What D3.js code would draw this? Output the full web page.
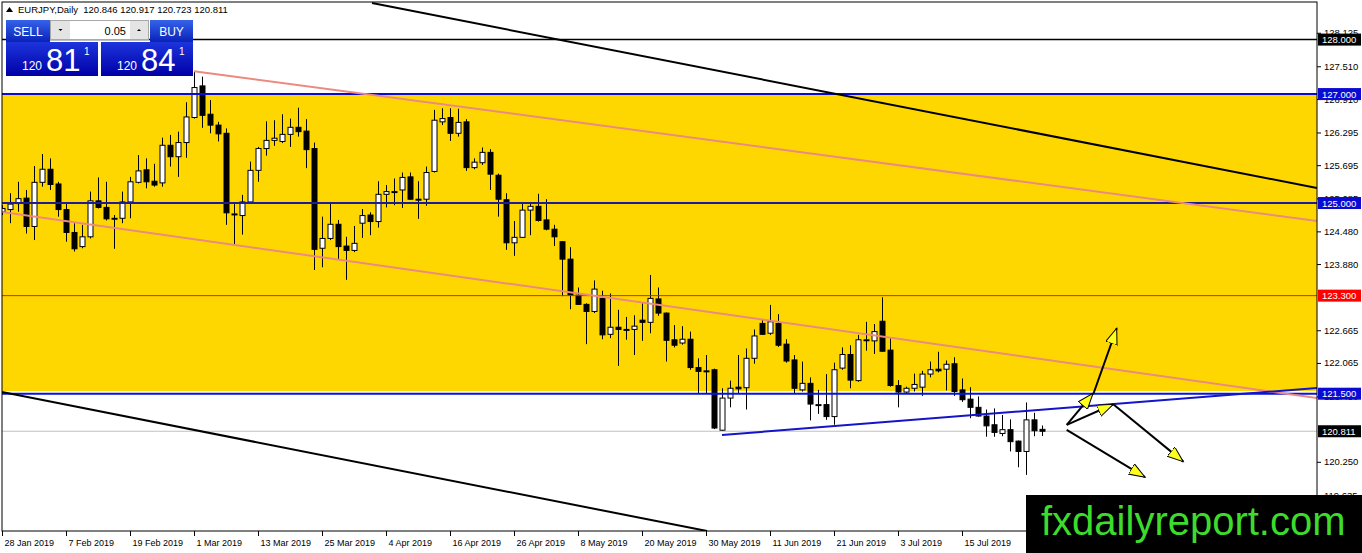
<!DOCTYPE html>
<html>
<head>
<meta charset="utf-8">
<script src="https://cdn.jsdelivr.net/npm/d3@7"></script>
<style>
  body { margin: 0; background: #fff; }
  svg { display: block; }
  text { font-family: "Liberation Sans", Arial, sans-serif; }
</style>
</head>
<body>
<svg id="chart" width="1362" height="553"></svg>
<script>
// EURJPY daily bars, 28 Jan 2019 .. 29 Jul 2019
const opens = [124.84,124.88,124.99,125.09,124.57,125.38,125.62,125.35,124.88,124.46,124.20,124.38,125.04,124.92,124.72,124.72,125.02,125.38,125.61,125.40,
  125.37,126.06,125.85,126.11,126.57,127.15,126.63,126.43,126.28,124.80,124.77,125.02,125.60,126.00,126.15,126.13,126.26,126.39,126.32,126.00,
  124.17,124.35,124.61,124.21,124.13,124.63,124.78,124.66,125.16,125.21,125.24,125.48,125.07,125.07,125.58,126.49,126.57,126.28,126.49,125.65,
  125.74,125.93,125.51,125.06,124.27,124.37,124.87,124.94,124.69,124.52,124.29,123.97,123.31,123.14,123.01,123.25,122.59,122.72,122.68,122.68,
  122.85,122.81,123.24,122.98,122.49,122.43,122.50,121.98,121.92,121.94,120.83,121.42,121.62,121.61,122.15,122.79,122.61,122.79,122.41,122.12,
  121.57,121.69,121.30,121.30,121.08,121.97,122.22,121.74,122.49,122.47,122.83,122.30,121.65,121.53,121.60,121.62,121.86,121.95,121.95,122.05,
  121.57,121.40,121.25,121.09,120.93,120.77,120.84,120.63,120.44,121.02,120.846];
const highs = [124.96,125.18,125.39,125.24,125.68,125.90,125.82,125.39,124.99,124.63,124.60,125.21,125.47,125.39,124.78,125.21,125.48,125.88,125.82,125.72,
  126.20,126.25,126.31,126.85,127.41,127.32,126.89,126.49,126.37,124.98,125.15,125.76,126.03,126.50,126.52,126.63,126.55,126.75,126.54,126.11,
  124.75,125.02,124.69,124.38,124.58,124.89,124.83,125.40,125.33,125.45,125.56,125.56,125.40,125.67,126.71,126.74,126.74,126.73,126.54,125.82,
  126.02,125.99,125.54,125.18,124.67,125.02,125.02,125.17,125.07,124.60,124.30,124.19,123.45,123.16,123.58,123.39,123.34,123.04,122.91,122.94,
  123.16,123.68,123.45,122.99,122.76,122.74,122.64,122.15,122.21,121.96,121.60,121.74,122.21,122.33,122.68,122.87,123.13,122.96,122.50,122.21,
  122.09,121.80,121.57,121.86,122.07,122.35,122.39,122.58,122.82,122.78,123.27,122.52,121.75,121.63,121.87,121.92,122.09,122.27,122.11,122.17,
  121.78,121.62,121.45,121.21,121.23,121.11,121.03,120.64,121.34,121.15,120.917];
const lows = [124.78,124.63,124.84,124.44,124.32,125.30,125.24,124.75,124.29,124.11,124.17,124.35,124.90,124.68,124.16,124.63,124.72,125.36,125.27,125.30,
  125.30,125.67,125.48,125.83,126.55,126.38,126.28,126.13,124.60,124.23,124.42,124.99,125.39,125.87,126.05,126.10,126.03,126.22,125.64,123.77,
  123.82,124.32,123.97,123.59,124.10,124.36,124.41,124.55,124.92,124.96,124.91,125.06,124.71,124.95,125.56,126.43,126.14,126.22,125.59,125.62,
  125.70,125.24,124.75,124.14,124.03,124.37,124.41,124.66,124.50,124.21,123.29,123.05,123.13,122.41,122.98,122.50,122.52,122.01,122.49,122.21,
  122.47,122.61,122.93,122.09,122.35,122.40,121.94,121.51,121.50,120.85,120.82,121.25,121.50,121.21,122.05,122.58,122.58,122.36,122.07,121.51,
  121.54,121.01,121.13,121.02,120.93,121.94,121.60,121.72,122.29,122.23,122.27,121.63,121.25,121.51,121.54,121.46,121.80,121.89,121.56,121.46,
  121.35,121.05,121.08,120.71,120.71,120.72,120.44,120.15,120.01,120.72,120.723];
const closes = [124.90,124.98,125.08,124.57,125.38,125.62,125.34,124.88,124.46,124.16,124.38,125.04,124.92,124.71,124.72,125.02,125.39,125.59,125.39,125.33,
  126.06,125.85,126.11,126.58,127.12,126.61,126.43,126.27,124.82,124.80,125.02,125.60,126.00,126.15,126.19,126.26,126.39,126.31,125.98,124.15,
  124.35,124.61,124.20,124.13,124.26,124.77,124.66,125.16,125.21,125.21,125.47,125.07,125.07,125.56,126.52,126.55,126.28,126.48,125.65,125.75,
  125.93,125.53,125.07,124.27,124.37,124.87,124.94,124.68,124.52,124.38,123.97,123.31,123.14,123.01,123.42,122.58,122.72,122.68,122.68,122.74,
  122.81,123.25,122.98,122.48,122.39,122.50,121.98,121.91,121.92,120.87,121.42,121.60,121.59,122.15,122.56,122.59,122.82,122.39,122.10,121.60,
  121.69,121.31,121.30,121.08,121.94,122.22,121.75,122.49,122.49,122.64,122.28,121.65,121.53,121.60,121.67,121.86,121.94,121.92,122.04,121.54,
  121.39,121.25,121.09,120.91,120.79,120.84,120.62,120.44,121.02,120.82,120.811];

// date labels, one every 8 bars
const dateLabels = ["28 Jan 2019","7 Feb 2019","19 Feb 2019","1 Mar 2019","13 Mar 2019","25 Mar 2019","4 Apr 2019","16 Apr 2019",
  "26 Apr 2019","8 May 2019","20 May 2019","30 May 2019","11 Jun 2019","21 Jun 2019","3 Jul 2019","15 Jul 2019"];
const labelStep = 8;

// price scale labels (123.265 and 120.850 sit fully under the price tags)
const priceTicks = [128.125,127.510,126.910,126.295,125.695,125.085,124.480,123.880,122.665,122.065,121.450,120.250,119.635];

// horizontal levels and zone
const levels = [128.000, 127.000, 125.000, 123.300, 121.500];
const zone = [127.000, 121.55];
const lastPrice = 120.811;
const quote = {symbol: "EURJPY,Daily", o: 120.846, h: 120.917, l: 120.723, c: 120.811, bid: "81", ask: "84", big: "120", lot: "0.05"};

// trend lines [barIndex, price]
const channelTop = [[46.25, 128.67], [164.375, 125.275]];
const channelBottom = [[0, 121.53], [88.125, 118.98]];
const pinkUpper = [[24, 127.42], [164.375, 124.67]];
const pinkLower = [[0, 124.835], [164.375, 121.42]];
const supportLine = [[90, 120.743], [164.375, 121.606]];

// scenario arrows [barIndex, price]
const arrowSegments = [
  [[133.09, 120.927], [136.38, 121.508]],
  [[136.45, 121.508], [139.34, 122.701]],
  [[133.09, 120.927], [138.91, 121.306]],
  [[138.91, 121.306], [147.66, 120.253]],
  [[133.09, 120.835], [142.88, 119.967]]
];

const W = 1362, H = 553;
const plot = {left: 2, right: 1317, top: 2, bottom: 531};

const svg = d3.select('#chart');
const defs = svg.append('defs');

const x = d3.scaleLinear().domain([0, 164.375]).range([plot.left, plot.right]);
const y = d3.scaleLinear().domain([118.98, 128.69]).range([plot.bottom, plot.top]);

defs.append('clipPath').attr('id', 'plotClip')
  .append('rect')
  .attr('x', plot.left).attr('y', plot.top)
  .attr('width', plot.right - plot.left).attr('height', plot.bottom - plot.top);

// arrow head
defs.append('marker')
  .attr('id', 'head')
  .attr('markerUnits', 'userSpaceOnUse')
  .attr('markerWidth', 18).attr('markerHeight', 14)
  .attr('refX', 16).attr('refY', 6)
  .attr('orient', 'auto')
  .append('path')
  .attr('d', 'M0,0 L16,6 L0,12 Z')
  .attr('fill', '#ffff1e').attr('stroke', '#000').attr('stroke-width', 1);

function grad(id, c1, c2) {
  const g = defs.append('linearGradient').attr('id', id).attr('x1', 0).attr('y1', 0).attr('x2', 0).attr('y2', 1);
  g.append('stop').attr('offset', '0%').attr('stop-color', c1);
  g.append('stop').attr('offset', '100%').attr('stop-color', c2);
}
grad('btnGrad', '#3563ea', '#0a22b8');
grad('boxGrad', '#1d34dc', '#0000a6');

const g = svg.append('g').attr('clip-path', 'url(#plotClip)');

// yellow zone
g.append('rect')
  .attr('x', plot.left).attr('width', plot.right - plot.left)
  .attr('y', y(zone[0])).attr('height', y(zone[1]) - y(zone[0]))
  .attr('fill', '#ffd700');

// last price line
g.append('line')
  .attr('x1', plot.left).attr('x2', plot.right)
  .attr('y1', y(lastPrice)).attr('y2', y(lastPrice))
  .attr('stroke', '#c0c0c0').attr('stroke-width', 1);

// candles
const bars = d3.range(opens.length).map(i => ({i, o: opens[i], h: highs[i], l: lows[i], c: closes[i]}));
const candle = g.append('g').selectAll('g').data(bars).join('g');
candle.append('line')
  .attr('x1', d => Math.round(x(d.i)) + 0.5).attr('x2', d => Math.round(x(d.i)) + 0.5)
  .attr('y1', d => y(d.h)).attr('y2', d => y(d.l))
  .attr('stroke', '#000').attr('stroke-width', 1);
candle.append('rect')
  .attr('x', d => Math.round(x(d.i)) - 2)
  .attr('width', 5)
  .attr('y', d => y(Math.max(d.o, d.c)))
  .attr('height', d => Math.max(1, Math.abs(y(d.o) - y(d.c))))
  .attr('fill', d => d.c >= d.o ? '#fff' : '#000')
  .attr('stroke', '#000').attr('stroke-width', 1);

// horizontal levels
const levelColor = {128: '#000', 127: '#0a0ad2', 125: '#1c1c9a', 123.3: '#e02010', 121.5: '#0a14d8'};
const levelWidth = {128: 1.5, 127: 2, 125: 2, 123.3: 1, 121.5: 2};
g.selectAll('.lvl').data(levels).join('line')
  .attr('class', 'lvl')
  .attr('x1', plot.left).attr('x2', plot.right)
  .attr('y1', d => y(d)).attr('y2', d => y(d))
  .attr('stroke', d => levelColor[d]).attr('stroke-width', d => levelWidth[d]);

// trend lines
const line = d3.line().x(d => x(d[0])).y(d => y(d[1]));
function trend(pts, color, w) {
  g.append('path').attr('d', line(pts)).attr('fill', 'none')
    .attr('stroke', color).attr('stroke-width', w);
}
trend(pinkUpper, '#ec8a80', 2);
trend(pinkLower, '#ec8a80', 2);
trend(channelTop, '#000', 2);
trend(channelBottom, '#000', 2);
trend(supportLine, '#1414c8', 2);

// scenario arrows
g.selectAll('.arr').data(arrowSegments).join('path')
  .attr('class', 'arr')
  .attr('d', d => line(d))
  .attr('fill', 'none').attr('stroke', '#000').attr('stroke-width', 2)
  .attr('marker-end', 'url(#head)');

// frame
svg.append('rect')
  .attr('x', plot.left).attr('y', plot.top)
  .attr('width', plot.right - plot.left).attr('height', plot.bottom - plot.top)
  .attr('fill', 'none').attr('stroke', '#000').attr('stroke-width', 1);

// right price axis
const yAxis = svg.append('g')
  .attr('transform', `translate(${plot.right},0)`)
  .call(d3.axisRight(y).tickValues(priceTicks).tickFormat(d3.format('.3f')).tickSize(4).tickPadding(3));
yAxis.select('.domain').remove();
yAxis.selectAll('text').attr('font-size', 9.5).attr('fill', '#000').attr('font-family', '"Liberation Sans", Arial, sans-serif');
yAxis.selectAll('line').attr('stroke', '#000');

// bottom date axis
const tickIdx = dateLabels.map((d, k) => k * labelStep);
const xAxis = svg.append('g')
  .attr('transform', `translate(0,${plot.bottom})`)
  .call(d3.axisBottom(x).tickValues(tickIdx).tickFormat((d, k) => dateLabels[k]).tickSize(5).tickPadding(4));
xAxis.select('.domain').remove();
xAxis.selectAll('text').attr('font-size', 9).attr('fill', '#000')
  .attr('text-anchor', 'start').attr('dx', 2)
  .attr('font-family', '"Liberation Sans", Arial, sans-serif');
xAxis.selectAll('line').attr('stroke', '#000');

// price tags on the axis
const tagFill = {128: '#000', 127: '#0a0ad2', 125: '#0a0ad2', 123.3: '#ff0000', 121.5: '#0a0ad2'};
const tags = levels.map(v => ({v, fill: tagFill[v]})).concat([{v: lastPrice, fill: '#000'}]);
const tag = svg.append('g').selectAll('g').data(tags).join('g')
  .attr('transform', d => `translate(${plot.right + 1},${y(d.v)})`);
tag.append('rect').attr('x', 0).attr('y', -6).attr('width', 43).attr('height', 12).attr('fill', d => d.fill);
tag.append('text').attr('x', 4).attr('y', 3.5).attr('font-size', 9.5).attr('fill', '#fff')
  .text(d => d.v.toFixed(3));

// header
svg.append('path').attr('d', 'M6,12 L9.5,7 L13,12 Z').attr('fill', '#000');
svg.append('text').attr('x', 18).attr('y', 13).attr('font-size', 9.5).attr('fill', '#000')
  .attr('xml:space', 'preserve')
  .text(`${quote.symbol}  ${quote.o.toFixed(3)} ${quote.h.toFixed(3)} ${quote.l.toFixed(3)} ${quote.c.toFixed(3)}`);

// one-click trading panel
const panel = svg.append('g').style('font-family', '"Open Sans", "Noto Sans", sans-serif');
panel.append('rect').attr('x', 6).attr('y', 20).attr('width', 44).attr('height', 22).attr('fill', 'url(#btnGrad)');
panel.append('text').attr('x', 28).attr('y', 35.5).attr('text-anchor', 'middle').attr('fill', '#fff')
  .attr('font-size', 12).attr('font-family', '"Open Sans", sans-serif').text('SELL');
panel.append('rect').attr('x', 150).attr('y', 20).attr('width', 43).attr('height', 22).attr('fill', 'url(#btnGrad)');
panel.append('text').attr('x', 171.5).attr('y', 35.5).attr('text-anchor', 'middle').attr('fill', '#fff')
  .attr('font-size', 12).attr('font-family', '"Open Sans", sans-serif').text('BUY');
panel.append('rect').attr('x', 50.5).attr('y', 20.5).attr('width', 98).attr('height', 19).attr('fill', '#fff').attr('stroke', '#a8a8a8');
panel.append('rect').attr('x', 51).attr('y', 21).attr('width', 19).attr('height', 18).attr('fill', '#e4e4e4');
panel.append('rect').attr('x', 130).attr('y', 21).attr('width', 18).attr('height', 18).attr('fill', '#e4e4e4');
panel.append('path').attr('d', 'M58.5,29 L62.5,29 L60.5,31 Z').attr('fill', '#000');
panel.append('path').attr('d', 'M137,31 L141,31 L139,29 Z').attr('fill', '#000');
panel.append('text').attr('x', 126).attr('y', 34.5).attr('text-anchor', 'end').attr('fill', '#000')
  .attr('font-size', 11).attr('font-family', '"Open Sans", sans-serif').text(quote.lot);

const boxes = [{x: 6, frac: quote.bid}, {x: 101, frac: quote.ask}];
const pb = panel.selectAll('.pbox').data(boxes).join('g').attr('class', 'pbox')
  .attr('transform', d => `translate(${d.x},42)`);
pb.append('rect').attr('width', 92).attr('height', 34).attr('fill', 'url(#boxGrad)');
pb.append('text').attr('x', 16).attr('y', 28).attr('fill', '#fff').attr('font-size', 12)
  .attr('font-family', '"Open Sans", sans-serif').text(quote.big);
pb.append('text').attr('x', 40).attr('y', 29).attr('fill', '#fff').attr('font-size', 31)
  .attr('font-family', '"Open Sans", sans-serif').text(d => d.frac);
pb.append('text').attr('x', 78).attr('y', 13).attr('fill', '#fff').attr('font-size', 10)
  .attr('font-family', '"Open Sans", sans-serif').text('1');

// watermark
svg.append('rect').attr('x', 1026).attr('y', 495).attr('width', W - 1026).attr('height', H - 495).attr('fill', '#000');
svg.append('text').attr('x', 1041).attr('y', 535).attr('fill', '#3ddc2c').attr('font-size', 40)
  .attr('font-family', '"Liberation Sans", Arial, sans-serif').text('fxdailyreport.com');
</script>
</body>
</html>
